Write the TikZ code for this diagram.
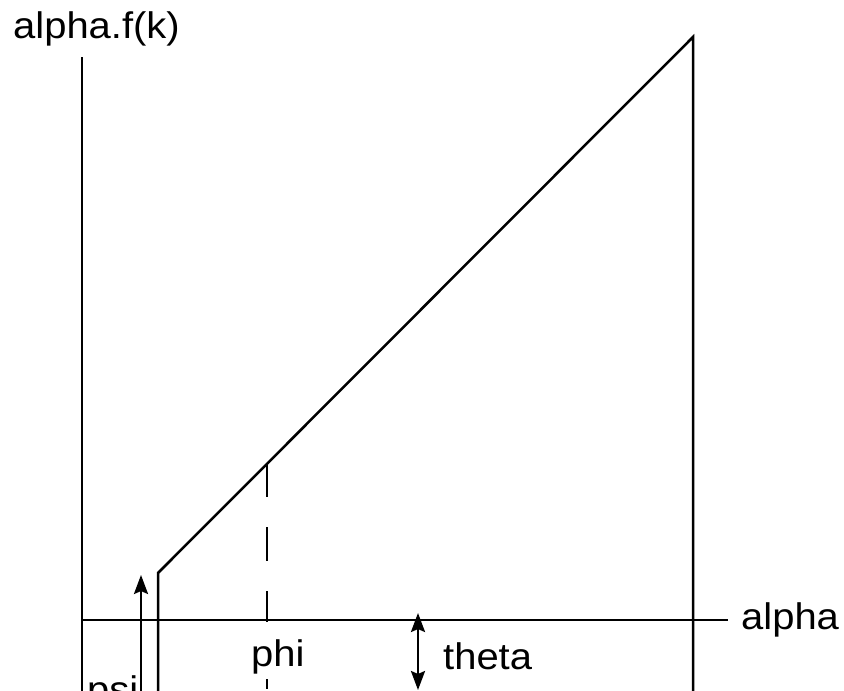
\documentclass[tikz,border=0pt]{standalone}
\usepackage{fontspec}
\setmainfont{Liberation Sans}
\usetikzlibrary{arrows.meta}
\newcommand{\wlbl}[1]{\scalebox{1.08}[1]{#1}}
\begin{document}
\begin{tikzpicture}[x=1pt,y=-1pt,
  ln/.style={line width=2.5pt},
  lbl/.style={inner sep=0pt,anchor=base west,font=\fontsize{37}{42}\selectfont},
  tip/.style={-{Stealth[length=19pt,width=14pt,inset=3pt]}}]
\useasboundingbox (0,0) rectangle (844,691);
\clip (0,0) rectangle (844,691);
\coordinate (ytop) at (82,57);
\coordinate (ybot) at (82,700);
\coordinate (xl) at (82,620);
\coordinate (xr) at (728,620);
\coordinate (rtop) at (693,37);
\coordinate (rbot) at (693,700);
\coordinate (lk) at (158,573);
\coordinate (lbot) at (158,700);
\coordinate (dtop) at (267,463);
\coordinate (dbot) at (267,700);
\coordinate (pa) at (141,700);
\coordinate (pb) at (141,575);
\coordinate (ta) at (418,613);
\coordinate (tb) at (418,690);
% dashed line
\draw[ln,dash pattern=on 34pt off 30pt] (dtop) -- (dbot);
\node[lbl,fill=white,text height=44pt,text depth=13pt] (phi) at (251,666) {\wlbl{phi}};
% axes and curve
\draw[ln] (ytop) -- (ybot);
\draw[ln] (xl) -- (xr);
\draw[ln] (lbot) -- (lk) -- (rtop) -- (rbot);
% arrows
\draw[ln,tip] (pa) -- (pb);
\draw[ln,{Stealth[length=19pt,width=14pt,inset=3pt]}-{Stealth[length=19pt,width=14pt,inset=3pt]}] (ta) -- (tb);
% labels
\node[lbl] (yl) at (13,38) {\wlbl{alpha.f(k)}};
\node[lbl] (al) at (741,629) {\wlbl{alpha}};
\node[lbl] (th) at (443,669) {\wlbl{theta}};
\node[lbl] (ps) at (87,702) {\wlbl{psi}};
\end{tikzpicture}
\end{document}
